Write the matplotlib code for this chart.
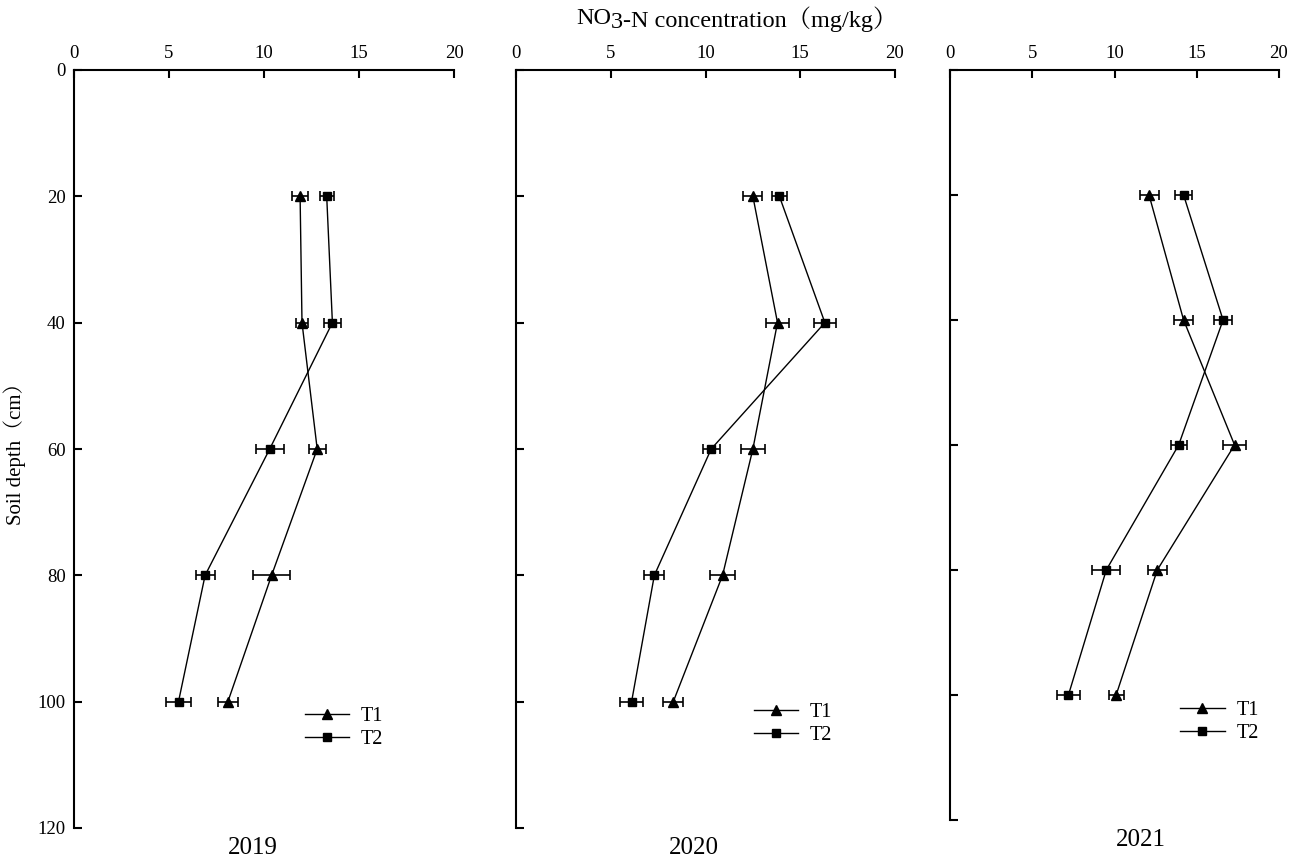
import matplotlib
matplotlib.use("Agg")
import matplotlib.pyplot as plt

depth = [20, 40, 60, 80, 100]
years = ["2019", "2020", "2021"]

t1_2019 = [11.9, 12.0, 12.8, 10.4, 8.1]
t1_2019_err = [0.42, 0.33, 0.45, 0.97, 0.54]
t2_2019 = [13.3, 13.6, 10.3, 6.9, 5.5]
t2_2019_err = [0.37, 0.45, 0.74, 0.5, 0.68]

t1_2020 = [12.5, 13.8, 12.5, 10.9, 8.3]
t1_2020_err = [0.5, 0.62, 0.65, 0.67, 0.52]
t2_2020 = [13.9, 16.3, 10.3, 7.3, 6.1]
t2_2020_err = [0.38, 0.6, 0.45, 0.52, 0.62]

t1_2021 = [12.1, 14.2, 17.3, 12.6, 10.1]
t1_2021_err = [0.58, 0.59, 0.7, 0.58, 0.46]
t2_2021 = [14.2, 16.6, 13.9, 9.5, 7.2]
t2_2021_err = [0.5, 0.55, 0.49, 0.86, 0.7]

t1_vals = [t1_2019, t1_2020, t1_2021]
t1_errs = [t1_2019_err, t1_2020_err, t1_2021_err]
t2_vals = [t2_2019, t2_2020, t2_2021]
t2_errs = [t2_2019_err, t2_2020_err, t2_2021_err]

xticks = [0, 5, 10, 15, 20]
yticks = [0, 20, 40, 60, 80, 100, 120]

serif = ["Liberation Serif", "Noto Serif CJK SC", "Noto Sans CJK SC", "DejaVu Serif"]
plt.rcParams["font.family"] = serif

fig = plt.figure(figsize=(13.01, 8.57), dpi=100)

positions = [
    [74 / 1301, 1 - 828 / 857, 380 / 1301, 758 / 857],
    [516 / 1301, 1 - 828 / 857, 379 / 1301, 758 / 857],
    [950 / 1301, 1 - 820 / 857, 329 / 1301, 750 / 857],
]
legend_anchor = [(0.607, 0.132), (0.627, 0.137), (0.70, 0.131)]

for i, pos in enumerate(positions):
    ax = fig.add_axes(pos)
    ax.set_xlim(0, 20)
    ax.set_ylim(120, 0)
    ax.errorbar(t1_vals[i], depth, xerr=t1_errs[i], color="black", marker="^",
                markersize=7, linewidth=1, elinewidth=1.2, capsize=3.5,
                capthick=1.2, label="T1")
    ax.errorbar(t2_vals[i], depth, xerr=t2_errs[i], color="black", marker="s",
                markersize=5.5, linewidth=1, elinewidth=1.2, capsize=3.5,
                capthick=1.2, label="T2")
    ax.spines["right"].set_visible(False)
    ax.spines["bottom"].set_visible(False)
    ax.spines["top"].set_linewidth(1.5)
    ax.spines["left"].set_linewidth(1.5)
    ax.xaxis.tick_top()
    ax.set_xticks(xticks)
    ax.set_yticks(yticks)
    ax.tick_params(axis="both", direction="in", length=6, width=1.5,
                   labelsize=13.5, pad=6)
    if i > 0:
        ax.tick_params(axis="y", labelleft=False)
    handles, labels = ax.get_legend_handles_labels()
    handles = [h[0] for h in handles]
    ax.legend(handles, labels, loc="center left", bbox_to_anchor=legend_anchor[i],
              frameon=False, fontsize=14.5, handlelength=2.2, handletextpad=0.6,
              labelspacing=0.2, borderpad=0, borderaxespad=0)
    ax.text(0.47 if i < 2 else 0.58, -0.012, years[i], transform=ax.transAxes,
            ha="center", va="top", fontsize=18)
    if i == 0:
        ax.set_ylabel("Soil depth（cm）", fontsize=15, labelpad=8)

# Title with lowered "3", built from pieces
title_parts = ["NO", "3", "-N concentration（mg/kg）"]
fig.canvas.draw()
renderer = fig.canvas.get_renderer()
tmp = [fig.text(0, 0, p, fontsize=17.5) for p in title_parts]
widths = [t.get_window_extent(renderer).width for t in tmp]
for t in tmp:
    t.remove()
total = sum(widths)
x0 = 737 - total / 2
y0 = 857 - 19
x = x0
for p, w in zip(title_parts, widths):
    dy = -4 if p == "3" else 0
    fig.text(x / 1301, (y0 + dy) / 857, p, fontsize=17.5, ha="left", va="center")
    x += w

fig.savefig("out.png", dpi=100, facecolor="white")
